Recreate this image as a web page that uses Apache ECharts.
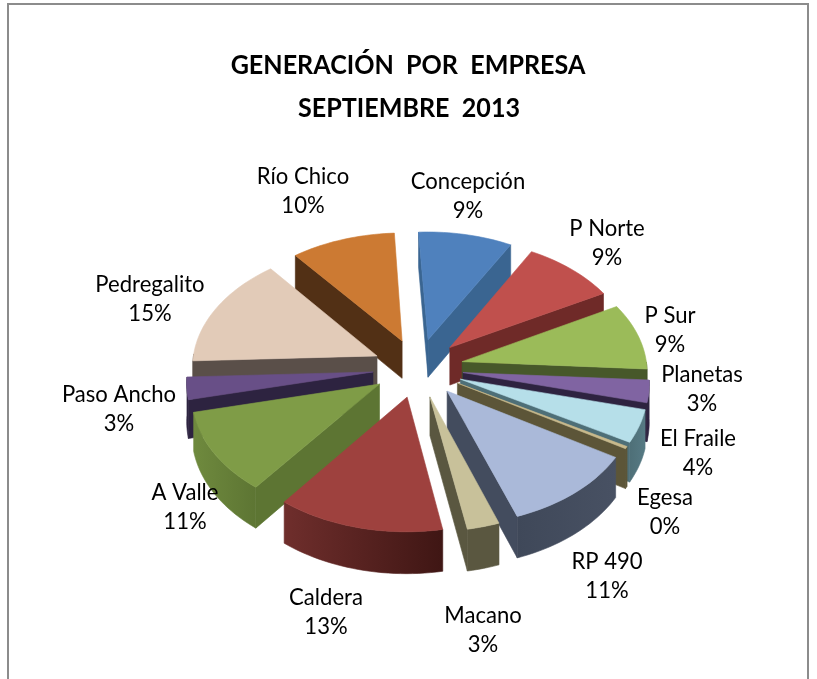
<!DOCTYPE html>
<html>
<head>
<meta charset="utf-8">
<style>html,body{margin:0;padding:0;background:#fff}#c{width:817px;height:679px}</style>
<script src="https://cdn.jsdelivr.net/npm/echarts@6/dist/echarts.min.js"></script>
</head>
<body>
<div id="c"></div>
<script>
const titleLines = ['GENERACIÓN  POR  EMPRESA','SEPTIEMBRE  2013'];
const categories = ['Concepción','P Norte','P Sur','Planetas','El Fraile','Egesa','RP 490','Macano','Caldera','A Valle','Paso Ancho','Pedregalito','Río Chico'];
const shares = [9,9,9,3,4.4,0.3,11,2.6,13.4,11,3,15,10];
const topColors = ['#4F81BD','#C0504D','#9BBB59','#8064A2','#B6DFE9','#C8B98C','#AAB9D9','#C8C19A','#9E413E','#7F9C47','#684F87','#E2CBB8','#CC7A33'];
const radialWallColors = ['#3A6591','#6F2A28','#47582A','#2E2340','#4E6F77','#5C5538','#434C5E','#5A5740','#6B2C2A','#5D7533','#2D2340','#5A4F49','#523015'];
const arcWallColors = [['#3A6591','#3A6591'],['#6F2A28','#6F2A28'],['#47582A','#3E4E24'],['#2E2340','#2E2340'],['#4E6F77','#567A84'],['#5C5538','#5C5538'],['#3F4859','#485163'],['#5A5740','#5A5740'],['#6F2E2C','#3F1614'],['#6F8A3E','#5D7533'],['#2D2340','#2D2340'],['#5A4F49','#5A4F49'],['#523015','#523015']];
const labelCentres = [[468,196],[607,243],[670,330],[702,389],[698,453],[665,512],[607,576],[483,630],[326,612],[185,507],[119,409],[150,299],[303,191]];

const view = {cx:418, cy:368, R:185, B:120, k:0.075, D:38, explode:0.245, startDeg:-3};
const total = shares.reduce((a,b)=>a+b,0);
let run = view.startDeg*Math.PI/180;
const slices = shares.map((v,i)=>{
  const a0 = run; const a1 = run + v/total*2*Math.PI; run = a1;
  return {i, a0, a1, mid:(a0+a1)/2};
});
const order = slices.slice().sort((p,q)=>Math.cos(q.mid)-Math.cos(p.mid));

function project(X,Y,z){
  const w = 1 + view.k*Y;
  return [view.cx + view.R*X/w, view.cy - view.B*Y/w + z*view.D/w];
}
function buildSlice(s){
  const ex = view.explode*Math.sin(s.mid), ey = view.explode*Math.cos(s.mid);
  const steps = Math.max(2, Math.ceil((s.a1-s.a0)/0.03));
  const pt = (r,a,z)=>project(ex+r*Math.sin(a), ey+r*Math.cos(a), z);
  const arc = [];
  for(let n=0;n<=steps;n++){ arc.push(s.a0+(s.a1-s.a0)*n/steps); }
  const children = [];
  const wall = (pts,fill)=>children.push({type:'polygon',silent:true,shape:{points:pts},style:{fill,stroke:fill,lineWidth:0.6}});
  const tip0 = pt(0,s.a0,0), tip1 = pt(0,s.a0,1);
  const o0 = pt(1,s.a0,0), o0b = pt(1,s.a0,1);
  const o1 = pt(1,s.a1,0), o1b = pt(1,s.a1,1);
  if(o0[0] < tip0[0]) wall([tip0,o0,o0b,tip1], radialWallColors[s.i]);
  if(tip0[0] < o1[0]) wall([o1,tip0,tip1,o1b], radialWallColors[s.i]);
  const upper = [], lower = [];
  for(let n=0;n<arc.length;n++){
    const a = arc[n];
    if(Math.cos(a) < 0.02){ upper.push(pt(1,a,0)); lower.unshift(pt(1,a,1)); }
  }
  if(upper.length>1){
    const c = arcWallColors[s.i];
    wall(upper.concat(lower), {type:'linear',x:0,y:0,x2:1,y2:0,colorStops:[{offset:0,color:c[0]},{offset:1,color:c[1]}]});
  }
  const top = [tip0].concat(arc.map(a=>pt(1,a,0)));
  children.push({type:'polygon',silent:true,shape:{points:top},style:{fill:topColors[s.i],stroke:topColors[s.i],lineWidth:0.6}});
  return children;
}
const family = 'Lato, "Open Sans", sans-serif';
const titleText = (t,x,y)=>({type:'text',silent:true,x,y,scaleX:0.93,style:{text:t,x:0,y:0,align:'center',verticalAlign:'middle',font:'bold 27px '+family,fill:'#000'}});
const chart = echarts.init(document.getElementById('c'),null,{renderer:'canvas'});
chart.setOption({
  animation:false,
  backgroundColor:'#ffffff',
  graphic:[
    {type:'rect',silent:true,shape:{x:8,y:4,width:800,height:720},style:{fill:'none',stroke:'#8c8c8c',lineWidth:2}},
    titleText(titleLines[0],408,65),
    titleText(titleLines[1],409,108)
  ],
  series:[{
    type:'custom',
    coordinateSystem:'none',
    silent:true,
    data:order.map(s=>[s.i]),
    renderItem:(params,api)=>{
      const s = slices[api.value(0)];
      return {type:'group',children:buildSlice(s)};
    }
  },{
    type:'custom',
    coordinateSystem:'none',
    silent:true,
    data:categories.map((c,i)=>[i]),
    renderItem:(params,api)=>{
      const i = api.value(0);
      const pct = Math.round(shares[i]/total*100);
      return {type:'text',silent:true,x:labelCentres[i][0],y:labelCentres[i][1],scaleX:0.96,style:{
        text:categories[i]+'\n'+pct+'%',
        x:0,y:0,
        align:'center', verticalAlign:'middle',
        font:'23px '+family, lineHeight:29, fill:'#000'
      }};
    }
  }]
});
</script>
</body>
</html>
